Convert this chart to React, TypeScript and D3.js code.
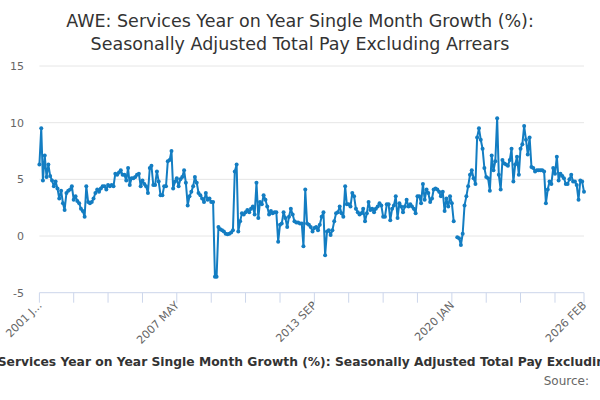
import React from "react";
import * as d3 from "d3";

// ---- data (monthly, Jan 2001 .. Feb 2026) ----
const START = new Date(2001, 0, 1);
const values: (number | null)[] = [
  6.3, 9.5, 4.9, 7.1, 5.2, 6.3, 5.3, 4.9, 4.4, 4.8,
  4.2, 3.3, 4.0, 2.9, 2.3, 3.8, 4.0, 4.1, 4.4, 3.2,
  3.5, 3.1, 2.9, 2.4, 2.2, 1.7, 4.4, 3.0, 2.9, 3.0,
  3.3, 3.8, 4.1, 3.9, 4.2, 4.4, 4.4, 4.1, 4.5, 4.4,
  4.5, 4.4, 5.5, 5.4, 5.6, 5.8, 5.4, 5.4, 4.9, 6.0,
  4.5, 5.1, 5.1, 5.2, 5.4, 5.5, 4.4, 4.9, 4.6, 4.4,
  3.8, 6.0, 6.2, 4.5, 4.5, 5.7, 4.8, 3.6, 3.6, 4.4,
  4.4, 6.6, 6.7, 7.5, 4.2, 4.8, 5.1, 4.4, 5.0, 5.2,
  5.8, 4.7, 2.7, 3.5, 3.9, 4.4, 5.2, 4.7, 3.8, 3.6,
  3.3, 3.0, 3.8, 3.2, 3.3, 3.0, 3.0, -3.6, -3.6, 0.8,
  0.6, 0.5, 0.4, 0.2, 0.15, 0.2, 0.3, 0.5, 5.7, 6.3,
  0.4, 1.3, 2.0, 1.9, 2.1, 2.3, 2.1, 2.4, 2.6, 1.9,
  4.7, 1.6, 3.0, 2.8, 3.6, 3.2, 2.6, 1.9, 2.2, 2.0,
  2.1, 2.1, -0.5, 1.0, 1.1, 2.1, 1.6, 0.8, 1.7, 2.4,
  1.9, 1.3, 1.2, 1.2, 1.1, 1.1, -0.9, 4.1, 1.1, 1.0,
  0.8, 0.4, 0.7, 0.8, 0.5, 1.0, 1.7, 2.1, -1.7, 0.4,
  0.5, 0.1, 0.5, 1.3, 2.0, 2.1, 2.6, 2.0, 1.7, 4.4,
  2.8, 2.8, 2.6, 3.8, 3.5, 2.4, 2.1, 1.9, 2.0, 2.4,
  1.3, 2.0, 3.0, 2.3, 2.4, 2.1, 2.4, 2.6, 2.9, 2.7,
  1.7, 1.7, 2.8, 2.8, 1.4, 2.4, 2.7, 3.5, 1.6, 2.9,
  2.6, 2.1, 2.6, 3.2, 2.6, 2.8, 2.6, 2.4, 2.0, 3.5,
  3.5, 2.9, 4.6, 3.2, 4.1, 3.8, 3.0, 3.3, 4.1, 4.2,
  4.1, 3.9, 3.5, 3.9, 2.2, 3.3, 2.6, 3.5, 2.9, 1.3,
  null, -0.1, -0.2, -0.8, 0.2, 2.7, 3.5, 4.4, 5.4, 5.8,
  5.1, 4.6, 8.7, 9.5, 8.5, 7.7, 6.0, 5.2, 5.1, 4.0,
  7.1, 5.8, 6.6, 10.4, 5.4, 4.1, 6.7, 6.4, 6.3, 6.2,
  6.7, 7.7, 4.8, 6.3, 7.0, 5.4, 7.7, 8.1, 9.7, 8.5,
  7.2, 8.7, 6.1, 6.0, 5.7, 5.8, 5.8, 5.8, 5.8, 5.7,
  2.9, 4.1, 4.8, 4.6, 6.0, 5.5, 7.0, 4.9, 5.5, 5.3,
  5.1, 4.6, 4.6, 5.0, 5.4, 4.8, 4.8, 4.5, 3.2, 4.9,
  4.8, 3.9,
];
const yTicks = [-5, 0, 5, 10, 15];
const xTickStepMonths = 19;
const xLabelMonths = [0, 76, 152, 228, 301];
const xLabelText = ["2001 J...", "2007 MAY", "2013 SEP", "2020 JAN", "2026 FEB"];
const titleLines = [
  "AWE: Services Year on Year Single Month Growth (%):",
  "Seasonally Adjusted Total Pay Excluding Arrears",
];
const axisTitle =
  "AWE: Services Year on Year Single Month Growth (%): Seasonally Adjusted Total Pay Excluding Arrears";
const sourceText = "Source:";

const monthDate = (i: number) => new Date(START.getFullYear(), START.getMonth() + i, 1);

export default function App() {
  const W = 600, H = 400;
  const left = 39.4, right = 584, top = 66, bottom = 292.7;
  const n = values.length;
  const x = d3.scaleTime().domain([monthDate(0), monthDate(n - 1)]).range([left, right]);
  const y = d3.scaleLinear().domain([-5, 15]).range([bottom, top]);
  const pts = values.map((v, i) => ({ d: monthDate(i), v }));
  const line = d3
    .line<{ d: Date; v: number | null }>()
    .defined((p) => p.v !== null)
    .x((p) => x(p.d))
    .y((p) => y(p.v as number));
  const tickIdx: number[] = [];
  for (let i = 0; i < n; i += xTickStepMonths) tickIdx.push(i);
  if (tickIdx[tickIdx.length - 1] !== n - 1) tickIdx.push(n - 1);
  const color = "#137dc2";
  const font = "'DejaVu Sans', sans-serif";

  return (
    <svg
      width={W}
      height={H}
      style={{ position: "absolute", left: 0, top: 0, background: "#fff" }}
      fontFamily={font}
    >
      <rect x={0} y={0} width={W} height={H} fill="#fff" />
      {titleLines.map((t, i) => (
        <text key={i} x={300} y={27 + i * 23} textAnchor="middle" fontSize={17.5} fill="#333">
          {t}
        </text>
      ))}
      {yTicks.map((t) => (
        <g key={t}>
          {t !== -5 && (
            <line x1={left} x2={right} y1={y(t)} y2={y(t)} stroke="#e6e6e6" strokeWidth={1} />
          )}
          <text x={24} y={y(t) + 4} textAnchor="end" fontSize={11} fill="#666">
            {t}
          </text>
        </g>
      ))}
      <line x1={left} x2={right} y1={bottom} y2={bottom} stroke="#ccd6eb" strokeWidth={1} />
      {tickIdx.map((i) => (
        <line
          key={i}
          x1={x(monthDate(i))}
          x2={x(monthDate(i))}
          y1={bottom}
          y2={bottom + 10}
          stroke="#ccd6eb"
          strokeWidth={1}
        />
      ))}
      {xLabelMonths.map((m, k) => {
        const px = x(monthDate(m)) + 3;
        const py = 306;
        return (
          <text
            key={m}
            x={px}
            y={py}
            textAnchor="end"
            fontSize={11}
            fill="#666"
            transform={`rotate(-45 ${px} ${py})`}
          >
            {xLabelText[k]}
          </text>
        );
      })}
      <path d={line(pts) || ""} fill="none" stroke={color} strokeWidth={2} strokeLinejoin="round" />
      {pts
        .filter((p) => p.v !== null)
        .map((p, i) => (
          <circle key={i} cx={x(p.d)} cy={y(p.v as number)} r={2} fill={color} />
        ))}
      <text x={(left + right) / 2 + 2} y={366} textAnchor="middle" fontSize={12.3} fontWeight="bold" fill="#333">
        {axisTitle}
      </text>
      <text x={589} y={385} textAnchor="end" fontSize={12} fill="#666">
        {sourceText}
      </text>
    </svg>
  );
}
